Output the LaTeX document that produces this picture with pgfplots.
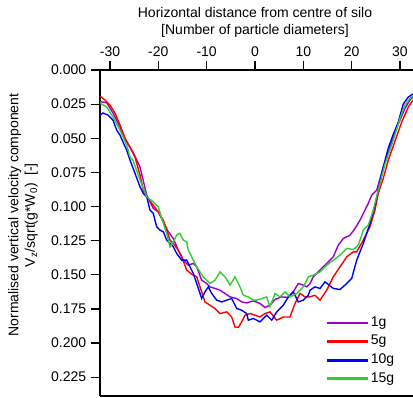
\documentclass[border=0pt]{standalone}
\usepackage{fontspec}
\setmainfont{Liberation Sans}
\usepackage{pgfplots}
\pgfplotsset{compat=1.18}
\definecolor{cpurple}{RGB}{153,0,204}
\definecolor{cred}{RGB}{255,0,0}
\definecolor{cblue}{RGB}{0,0,255}
\definecolor{cgreen}{RGB}{51,204,51}
\newcommand{\lbl}{\fontsize{14pt}{16.7pt}\selectfont}
\begin{document}
\lbl
\begin{tikzpicture}
\begin{axis}[
  width=313pt, height=326pt, scale only axis,
  clip=false,
  xmin=-32.07, xmax=32.69, ymin=0, ymax=0.2388, y dir=reverse,
  axis y line*=left,
  xtick pos=upper, xticklabel pos=upper,
  ytick pos=left,
  tick align=outside,
  major tick length=9pt,
  tick style={line width=1.2pt, black},
  axis line style={line width=1.6pt, black},
  xtick={-30,-20,-10,0,10,20,30},
  xticklabels={-30,-20,-10,0,10,20,30},
  ytick={0,0.025,0.05,0.075,0.1,0.125,0.15,0.175,0.2,0.225},
  yticklabels={0.000,0.025,0.050,0.075,0.100,0.125,0.150,0.175,0.200,0.225},
  tick label style={font=\lbl},
  xticklabel style={yshift=-1pt},
  legend style={draw=none, fill=none, font=\lbl, at={(axis description cs:0.715,0.2575)}, anchor=north west,
    nodes={inner sep=2.5pt, text height=9.5pt, text depth=3pt}, row sep=1.1pt},
  legend cell align=left,
  legend image code/.code={\fill[#1] (0pt,-0.75pt) rectangle (40pt,0.75pt);},
]
\addplot[cpurple, line width=1.4pt] coordinates {
(-32.07,0.0232)(-30.68,0.0240)(-29.38,0.0315)(-27.93,0.0418)(-26.55,0.0528)(-25.24,0.0601)(-23.79,0.0711)
(-22.41,0.0916)(-21.04,0.1014)(-20.01,0.1039)(-18.97,0.1112)(-17.94,0.1185)(-16.90,0.1234)(-15.87,0.1320)
(-14.83,0.1393)(-13.80,0.1430)(-12.77,0.1417)(-12.06,0.1442)(-11.03,0.1540)(-9.99,0.1564)(-9.31,0.1589)
(-8.28,0.1600)(-7.24,0.1613)(-6.21,0.1637)(-5.17,0.1662)(-3.79,0.1674)(-2.75,0.1699)(-1.72,0.1706)
(-0.35,0.1691)(1.03,0.1710)(2.07,0.1740)(3.10,0.1723)(4.14,0.1681)(5.52,0.1662)(6.89,0.1666)(7.92,0.1625)
(8.96,0.1564)(9.99,0.1576)(10.70,0.1589)(11.38,0.1564)(12.06,0.1515)(14.13,0.1442)(16.20,0.1369)
(17.23,0.1283)(18.27,0.1234)(19.66,0.1210)(20.69,0.1161)(21.72,0.1100)(22.76,0.1026)(23.44,0.0977)
(24.15,0.0916)(25.18,0.0880)(26.48,0.0718)(28.28,0.0528)(29.65,0.0396)(31.03,0.0281)(32.07,0.0220)(32.69,0.0196)
};
\addlegendentry{1g}
\addplot[cred, line width=1.4pt] coordinates {
(-32.07,0.0191)(-31.03,0.0220)(-30.00,0.0257)(-28.97,0.0315)(-27.93,0.0403)(-26.90,0.0499)(-25.86,0.0565)
(-24.83,0.0638)(-23.79,0.0770)(-23.11,0.0880)(-22.41,0.0931)(-21.04,0.0990)(-20.01,0.1039)(-18.97,0.1100)
(-18.28,0.1173)(-17.59,0.1246)(-16.90,0.1271)(-15.87,0.1320)(-15.17,0.1369)(-14.13,0.1466)(-13.10,0.1496)
(-12.06,0.1515)(-11.38,0.1589)(-10.35,0.1699)(-9.31,0.1723)(-8.28,0.1747)(-7.24,0.1784)(-5.86,0.1772)
(-4.82,0.1809)(-4.14,0.1882)(-3.46,0.1886)(-2.75,0.1845)(-2.07,0.1796)(-1.03,0.1784)(0,0.1796)(1.03,0.1809)
(2.07,0.1784)(3.10,0.1772)(4.49,0.1833)(5.86,0.1809)(7.24,0.1809)(8.28,0.1710)(9.31,0.1637)(10.35,0.1662)
(11.38,0.1662)(12.41,0.1650)(13.45,0.1686)(14.83,0.1613)(16.20,0.1515)(17.59,0.1442)(18.97,0.1369)
(20.34,0.1332)(21.04,0.1332)(22.41,0.1246)(23.79,0.1149)(24.83,0.1026)(25.51,0.0904)(26.55,0.0792)
(27.58,0.0660)(28.97,0.0521)(30.35,0.0381)(31.72,0.0271)(32.69,0.0220)
};
\addlegendentry{5g}
\addplot[cblue, line width=1.4pt] coordinates {
(-32.07,0.0330)(-31.45,0.0315)(-30.41,0.0330)(-29.38,0.0367)(-28.62,0.0440)(-27.93,0.0477)(-26.55,0.0587)
(-25.86,0.0660)(-24.83,0.0757)(-23.79,0.0856)(-23.11,0.0904)(-22.41,0.0929)(-22.07,0.0977)(-21.72,0.1026)
(-21.04,0.1051)(-20.34,0.1149)(-19.66,0.1173)(-18.97,0.1185)(-18.28,0.1246)(-16.90,0.1295)(-16.21,0.1344)
(-15.17,0.1393)(-14.13,0.1393)(-13.45,0.1442)(-12.77,0.1490)(-12.06,0.1564)(-11.03,0.1674)(-10.35,0.1625)
(-9.66,0.1589)(-8.96,0.1637)(-7.92,0.1686)(-6.89,0.1699)(-5.86,0.1686)(-4.82,0.1674)(-3.79,0.1747)
(-2.75,0.1760)(-1.72,0.1784)(-1.39,0.1833)(-0.35,0.1820)(1.03,0.1845)(2.42,0.1796)(3.46,0.1833)(4.49,0.1772)
(5.86,0.1723)(6.89,0.1662)(7.92,0.1625)(8.96,0.1699)(9.99,0.1686)(11.03,0.1650)(11.38,0.1613)(12.41,0.1589)
(13.45,0.1600)(14.48,0.1552)(16.20,0.1600)(17.59,0.1608)(18.97,0.1564)(20.01,0.1527)(21.04,0.1393)
(22.41,0.1271)(23.79,0.1124)(24.83,0.0990)(25.51,0.0880)(26.48,0.0718)(27.58,0.0572)(28.55,0.0477)
(29.65,0.0381)(30.68,0.0249)(31.72,0.0198)(32.69,0.0176)
};
\addlegendentry{10g}
\addplot[cgreen, line width=1.4pt] coordinates {
(-32.07,0.0242)(-30.68,0.0271)(-29.38,0.0345)(-27.93,0.0440)(-26.55,0.0550)(-25.86,0.0638)(-25.24,0.0660)
(-23.79,0.0806)(-22.41,0.0929)(-21.04,0.0966)(-20.01,0.1002)(-19.31,0.1087)(-18.28,0.1197)(-17.59,0.1295)
(-16.90,0.1259)(-16.21,0.1210)(-15.52,0.1197)(-14.83,0.1246)(-14.13,0.1259)(-13.80,0.1320)(-13.10,0.1369)
(-12.06,0.1442)(-10.70,0.1515)(-9.31,0.1564)(-8.28,0.1540)(-7.24,0.1479)(-6.21,0.1515)(-5.17,0.1576)
(-4.14,0.1515)(-3.10,0.1589)(-2.42,0.1650)(-1.39,0.1662)(-0.35,0.1686)(0.35,0.1686)(1.39,0.1674)
(2.42,0.1662)(3.10,0.1735)(4.14,0.1637)(5.17,0.1662)(6.21,0.1625)(7.24,0.1662)(8.63,0.1637)(9.99,0.1589)
(11.03,0.1515)(12.06,0.1503)(13.45,0.1479)(14.83,0.1430)(16.20,0.1393)(17.59,0.1356)(18.97,0.1307)
(20.34,0.1315)(21.38,0.1283)(22.41,0.1173)(23.44,0.1136)(24.48,0.1026)(25.51,0.0880)(26.90,0.0689)
(28.62,0.0513)(30.00,0.0354)(31.03,0.0257)(32.07,0.0207)(32.69,0.0191)
};
\addlegendentry{15g}
\node[rotate=90, align=center, font=\lbl] at (axis description cs:-0.246,0.555)
  {Normalised vertical velocity component\\V\textsubscript{z}/sqrt(g*W\textsubscript{0})\ \ [-]};
\node[align=center, font=\lbl] at (axis description cs:0.4952,1.147)
  {Horizontal distance from centre of silo\\{}[Number of particle diameters]};
\coordinate (BBsw) at (axis description cs:0,0);
\coordinate (BBne) at (axis description cs:1,1);
\end{axis}
\pgfresetboundingbox
\path[use as bounding box] ([shift={(-100pt,-2pt)}]BBsw) rectangle ([shift={(0pt,70pt)}]BBne);
\end{tikzpicture}
\end{document}
